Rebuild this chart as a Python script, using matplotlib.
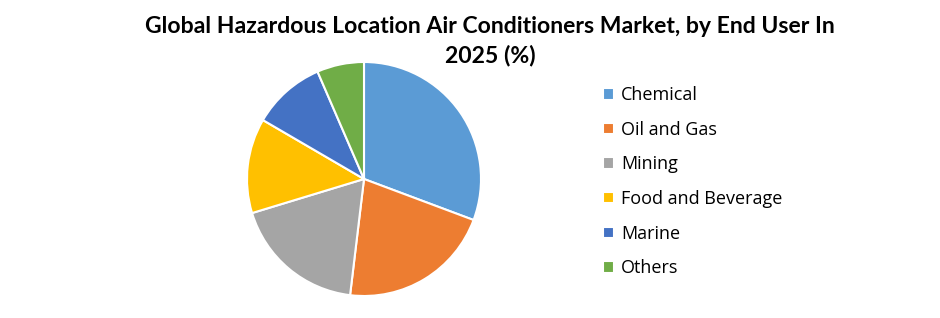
import matplotlib.pyplot as plt

labels = ['Chemical', 'Oil and Gas', 'Mining', 'Food and Beverage', 'Marine', 'Others']
shares = [30.7, 21.2, 18.4, 13.1, 10.1, 6.5]
colors = ['#5B9BD5', '#ED7D31', '#A5A5A5', '#FFC000', '#4472C4', '#70AD47']

title = 'Global Hazardous Location Air Conditioners Market, by End User In\n2025 (%)'

W, H = 940, 318
fig = plt.figure(figsize=(W/100, H/100), dpi=100)

# pie centred at about (364, 179) px, radius ~117 px
cx, cy, r = 364, 179, 117
ax = fig.add_axes([(cx-r)/W, (H-cy-r)/H, 2*r/W, 2*r/H])
wedges, _ = ax.pie(shares, colors=colors, startangle=90, counterclock=False,
                   wedgeprops=dict(edgecolor='white', linewidth=1.5))
ax.set_xlim(-1, 1)
ax.set_ylim(-1, 1)
ax.set_aspect('equal')

fig.text(490/W, 1-16/H, title, ha='center', va='top', fontsize=16.6,
         fontweight='bold', family='Lato', linespacing=1.42)

leg = fig.legend(wedges, labels, loc='upper left', bbox_to_anchor=(587/W, 1-70/H),
                 frameon=False, handlelength=0.6, handleheight=0.6,
                 handletextpad=0.4, labelspacing=0.92, prop={'family': 'Open Sans', 'size': 13})

fig.savefig('out.png', dpi=100)
